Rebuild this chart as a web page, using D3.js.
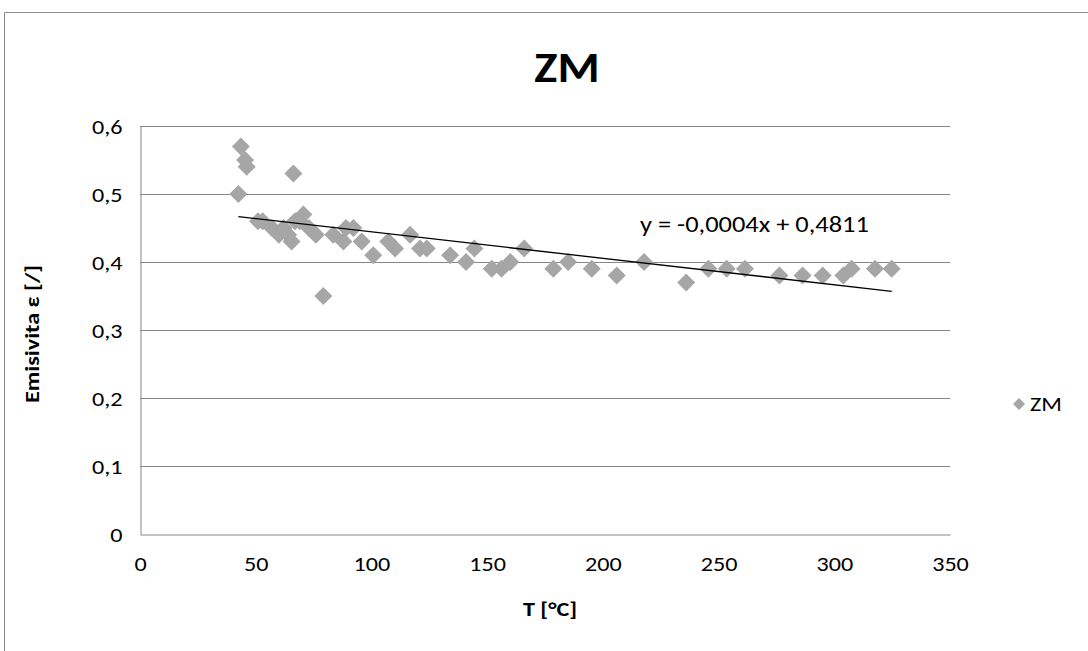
<!DOCTYPE html>
<html>
<head>
<meta charset="utf-8">
<script src="https://cdn.jsdelivr.net/npm/d3@7"></script>
<style>
  html, body { margin: 0; padding: 0; background: #fff; }
  svg text { font-family: Carlito, Calibri, Lato, "Liberation Sans", sans-serif; }
</style>
</head>
<body>
<svg id="chart" width="1088" height="651"></svg>
<script>
// ---- data ----
const temperatures = [42.5, 43.6, 45.4, 46.1, 51, 53, 57, 60, 62, 64, 65.5, 66.3, 67, 69, 70.6, 73, 76, 79.2,
  83.5, 87.9, 89, 92.2, 95.8, 100.8, 107.3, 110.2, 116.7, 121, 123.9, 134, 140.9, 144.5, 152, 156.2, 160, 166,
  178.6, 185, 195.2, 206, 217.8, 236, 245.6, 253.5, 261.4, 276.3, 286.3, 295, 303.9, 307.5, 317.6, 324.8];
const emissivity = [0.50, 0.57, 0.55, 0.54, 0.46, 0.46, 0.45, 0.44, 0.45, 0.44, 0.43, 0.53, 0.46, 0.46, 0.47, 0.45, 0.44, 0.35,
  0.44, 0.43, 0.45, 0.45, 0.43, 0.41, 0.43, 0.42, 0.44, 0.42, 0.42, 0.41, 0.40, 0.42, 0.39, 0.39, 0.40, 0.42,
  0.39, 0.40, 0.39, 0.38, 0.40, 0.37, 0.39, 0.39, 0.39, 0.38, 0.38, 0.38, 0.38, 0.39, 0.39, 0.39];
const xTicks = [0, 50, 100, 150, 200, 250, 300, 350];
const yTicks = [0, 0.1, 0.2, 0.3, 0.4, 0.5, 0.6];
const trendSlope = -0.000389;
const trendIntercept = 0.4832;
const trendLabel = "y = -0,0004x + 0,4811";
const titleText = "ZM";
const seriesName = "ZM";
const xTitle = "T [°C]";
const yTitle = "Emisivita ε [/]";

// ---- layout ----
const svg = d3.select("#chart");
const plot = { left: 140, right: 950, top: 126, bottom: 534 };
const x = d3.scaleLinear().domain([0, 350]).range([plot.left, plot.right]);
const y = d3.scaleLinear().domain([0, 0.6]).range([plot.bottom, plot.top]);
const fmt = v => String(+v.toFixed(1)).replace(".", ",");
const markerColor = "#a6a6a6";
const gridColor = "#868686";
const SX = 1.15;      // horizontal glyph stretch of the reference
const tickSize = 21;

// outer chart border
svg.append("path")
  .attr("d", "M4.5,651 L4.5,12.5 L1088,12.5")
  .attr("fill", "none").attr("stroke", "#8c8c8c").attr("stroke-width", 1);

// gridlines
svg.append("g").selectAll("line").data(yTicks.filter(d => d > 0)).join("line")
  .attr("x1", plot.left).attr("x2", plot.right)
  .attr("y1", d => Math.round(y(d)) + 0.5).attr("y2", d => Math.round(y(d)) + 0.5)
  .attr("stroke", gridColor).attr("stroke-width", 1);

// y axis
const yAxis = d3.axisLeft(y).tickValues(yTicks).tickSize(0).tickFormat(fmt);
const gy = svg.append("g").attr("transform", `translate(${plot.left + 0.5},0)`).call(yAxis);
gy.select(".domain").attr("stroke", gridColor);
gy.selectAll("text").attr("font-size", tickSize).attr("fill", "#000")
  .attr("x", 0).attr("dy", "0.35em")
  .attr("transform", `translate(-18,0) scale(${SX},1)`);

// x axis
const xAxis = d3.axisBottom(x).tickValues(xTicks).tickSize(0).tickPadding(22).tickFormat(d => d);
const gx = svg.append("g").attr("transform", `translate(0,${plot.bottom + 0.5})`).call(xAxis);
gx.select(".domain").attr("stroke", gridColor);
gx.selectAll("text").attr("font-size", tickSize).attr("fill", "#000")
  .attr("transform", `scale(${SX},1)`);

// points
const pts = temperatures.map((t, i) => ({ t, e: emissivity[i] }));
svg.append("g").selectAll("path").data(pts).join("path")
  .attr("d", d3.symbol().type(d3.symbolSquare).size(162))
  .attr("transform", d => `translate(${x(d.t)},${y(d.e)}) rotate(45)`)
  .attr("fill", markerColor);

// trend line
const tMin = d3.min(temperatures), tMax = d3.max(temperatures);
svg.append("line")
  .attr("x1", x(tMin)).attr("y1", y(trendSlope * tMin + trendIntercept))
  .attr("x2", x(tMax)).attr("y2", y(trendSlope * tMax + trendIntercept))
  .attr("stroke", "#000").attr("stroke-width", 1.3);

function label(px, py, txt, size, opts = {}) {
  const g = svg.append("g").attr("transform", `translate(${px},${py})${opts.rotate ? " rotate(-90)" : ""} scale(${SX},1)`);
  const t = g.append("text").attr("font-size", size).attr("fill", "#000")
    .attr("text-anchor", opts.anchor || "start").text(txt);
  if (opts.bold) t.attr("font-weight", "bold");
  return t;
}

label(640, 232, trendLabel, 23);
label(567, 82, titleText, 42, { anchor: "middle", bold: true });
label(550, 616, xTitle, 21, { anchor: "middle", bold: true });
label(39, 334, yTitle, 21, { anchor: "middle", bold: true, rotate: true });

// legend
svg.append("path").attr("d", d3.symbol().type(d3.symbolSquare).size(72))
  .attr("transform", "translate(1019,404) rotate(45)").attr("fill", markerColor);
label(1030, 411, seriesName, 21);
</script>
</body>
</html>
